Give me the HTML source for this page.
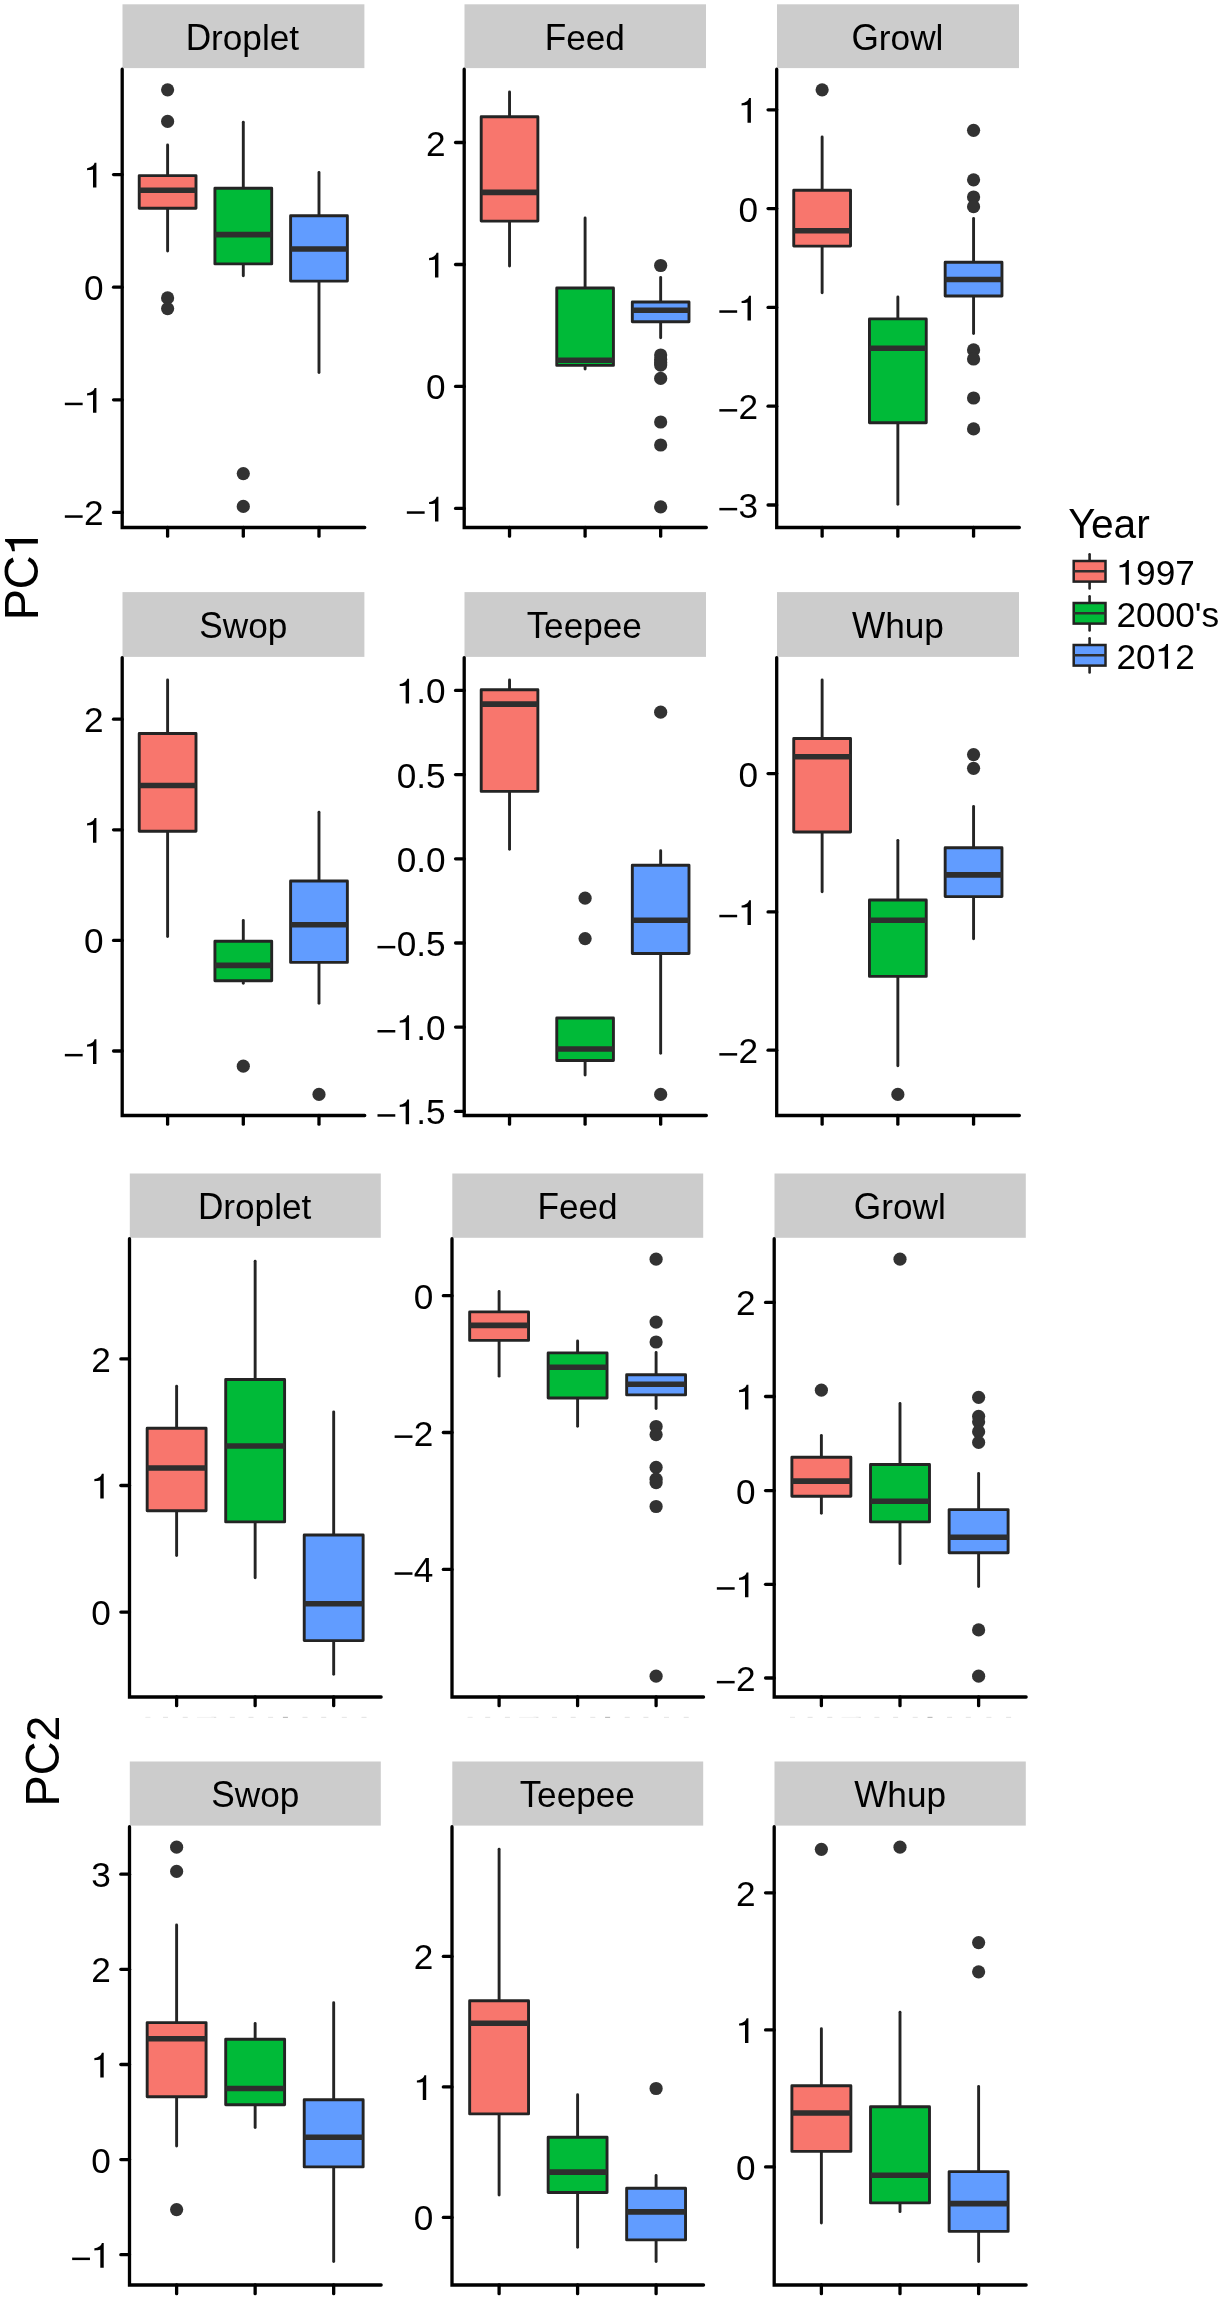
<!DOCTYPE html>
<html><head><meta charset="utf-8"><style>
html,body{margin:0;padding:0;background:#fff;}
svg{display:block;}

text{font-family:"Liberation Sans",sans-serif;}
svg{will-change:transform;}
</style></head><body>
<svg width="1222" height="2300" viewBox="0 0 1222 2300">
<rect width="1222" height="2300" fill="#fff"/>
<g>
<rect x="122.5" y="4.3" width="241.9" height="63.8" fill="#CCCCCC"/>
<g transform="translate(185.65,50.35) scale(1,1)" fill="#000"><text x="0" y="0" transform="scale(1,1.04)" font-size="35.2" style="font-kerning:none">D</text><text x="25.42" y="0" font-size="35.2" style="font-kerning:none">roplet</text></g>
<line x1="167.61" y1="145.05" x2="167.61" y2="175.6" stroke="#242424" stroke-width="2.9" stroke-linecap="round"/>
<line x1="167.61" y1="208.3" x2="167.61" y2="251.05" stroke="#242424" stroke-width="2.9" stroke-linecap="round"/>
<rect x="139.23" y="175.6" width="56.77" height="32.7" fill="#F8766D" stroke="#242424" stroke-width="2.9" stroke-linejoin="round"/>
<line x1="139.23" y1="190.3" x2="196" y2="190.3" stroke="#2e2e2e" stroke-width="5.6" stroke-linecap="butt"/>
<circle cx="167.61" cy="89.8" r="6.6" fill="#323232"/>
<circle cx="167.61" cy="121.4" r="6.6" fill="#323232"/>
<circle cx="167.61" cy="297.9" r="6.6" fill="#323232"/>
<circle cx="167.61" cy="308.6" r="6.6" fill="#323232"/>
<line x1="243.3" y1="122.15" x2="243.3" y2="188.3" stroke="#242424" stroke-width="2.9" stroke-linecap="round"/>
<line x1="243.3" y1="263.9" x2="243.3" y2="275.75" stroke="#242424" stroke-width="2.9" stroke-linecap="round"/>
<rect x="214.92" y="188.3" width="56.77" height="75.6" fill="#00BA38" stroke="#242424" stroke-width="2.9" stroke-linejoin="round"/>
<line x1="214.92" y1="234.6" x2="271.68" y2="234.6" stroke="#2e2e2e" stroke-width="5.6" stroke-linecap="butt"/>
<circle cx="243.3" cy="473.6" r="6.6" fill="#323232"/>
<circle cx="243.3" cy="506.4" r="6.6" fill="#323232"/>
<line x1="318.99" y1="172.55" x2="318.99" y2="215.8" stroke="#242424" stroke-width="2.9" stroke-linecap="round"/>
<line x1="318.99" y1="281.1" x2="318.99" y2="372.45" stroke="#242424" stroke-width="2.9" stroke-linecap="round"/>
<rect x="290.6" y="215.8" width="56.77" height="65.3" fill="#619CFF" stroke="#242424" stroke-width="2.9" stroke-linejoin="round"/>
<line x1="290.6" y1="249" x2="347.37" y2="249" stroke="#2e2e2e" stroke-width="5.6" stroke-linecap="butt"/>
<path d="M122.2,69.25V527.5H364.75" fill="none" stroke="#000" stroke-width="3.3" stroke-linejoin="miter" stroke-linecap="round"/>
<line x1="113.55" y1="174.6" x2="122.2" y2="174.6" stroke="#000" stroke-width="3.3" stroke-linecap="round"/>
<g transform="translate(84.02,187.6) scale(1,1)" fill="#000"><path transform="translate(0,0) scale(35.2,-35.2)" d="M0.255,0L0.352,0L0.352,0.703L0.300,0.703C0.283,0.640 0.225,0.575 0.087,0.553L0.087,0.492C0.150,0.496 0.215,0.502 0.255,0.512Z"/></g>
<line x1="113.55" y1="287.2" x2="122.2" y2="287.2" stroke="#000" stroke-width="3.3" stroke-linecap="round"/>
<g transform="translate(84.02,300.2) scale(1,1)" fill="#000"><text x="0" y="0" font-size="35.2" style="font-kerning:none">0</text></g>
<line x1="113.55" y1="399.8" x2="122.2" y2="399.8" stroke="#000" stroke-width="3.3" stroke-linecap="round"/>
<g transform="translate(63.47,412.8) scale(1,1)" fill="#000"><path transform="translate(0,0) scale(35.2,-35.2)" d="M0.039,0.216L0.545,0.216L0.545,0.287L0.039,0.287Z"/><path transform="translate(20.56,0) scale(35.2,-35.2)" d="M0.255,0L0.352,0L0.352,0.703L0.300,0.703C0.283,0.640 0.225,0.575 0.087,0.553L0.087,0.492C0.150,0.496 0.215,0.502 0.255,0.512Z"/></g>
<line x1="113.55" y1="512.4" x2="122.2" y2="512.4" stroke="#000" stroke-width="3.3" stroke-linecap="round"/>
<g transform="translate(63.47,525.4) scale(1,1)" fill="#000"><path transform="translate(0,0) scale(35.2,-35.2)" d="M0.039,0.216L0.545,0.216L0.545,0.287L0.039,0.287Z"/><text x="20.56" y="0" font-size="35.2" style="font-kerning:none">2</text></g>
<line x1="167.61" y1="527.5" x2="167.61" y2="536.15" stroke="#000" stroke-width="3.3" stroke-linecap="round"/>
<line x1="243.3" y1="527.5" x2="243.3" y2="536.15" stroke="#000" stroke-width="3.3" stroke-linecap="round"/>
<line x1="318.99" y1="527.5" x2="318.99" y2="536.15" stroke="#000" stroke-width="3.3" stroke-linecap="round"/>
<rect x="464.5" y="4.3" width="241.5" height="63.8" fill="#CCCCCC"/>
<g transform="translate(544.73,50.35) scale(1,1)" fill="#000"><text x="0" y="0" transform="scale(1,1.04)" font-size="35.2" style="font-kerning:none">F</text><text x="21.5" y="0" font-size="35.2" style="font-kerning:none">eed</text></g>
<line x1="509.54" y1="91.95" x2="509.54" y2="116.8" stroke="#242424" stroke-width="2.9" stroke-linecap="round"/>
<line x1="509.54" y1="221.1" x2="509.54" y2="265.95" stroke="#242424" stroke-width="2.9" stroke-linecap="round"/>
<rect x="481.2" y="116.8" width="56.67" height="104.3" fill="#F8766D" stroke="#242424" stroke-width="2.9" stroke-linejoin="round"/>
<line x1="481.2" y1="192.4" x2="537.87" y2="192.4" stroke="#2e2e2e" stroke-width="5.6" stroke-linecap="butt"/>
<line x1="585.1" y1="217.95" x2="585.1" y2="288" stroke="#242424" stroke-width="2.9" stroke-linecap="round"/>
<line x1="585.1" y1="365.4" x2="585.1" y2="369.05" stroke="#242424" stroke-width="2.9" stroke-linecap="round"/>
<rect x="556.76" y="288" width="56.67" height="77.4" fill="#00BA38" stroke="#242424" stroke-width="2.9" stroke-linejoin="round"/>
<line x1="556.76" y1="360.2" x2="613.44" y2="360.2" stroke="#2e2e2e" stroke-width="5.6" stroke-linecap="butt"/>
<line x1="660.66" y1="277.45" x2="660.66" y2="302" stroke="#242424" stroke-width="2.9" stroke-linecap="round"/>
<line x1="660.66" y1="321.7" x2="660.66" y2="337.75" stroke="#242424" stroke-width="2.9" stroke-linecap="round"/>
<rect x="632.33" y="302" width="56.67" height="19.7" fill="#619CFF" stroke="#242424" stroke-width="2.9" stroke-linejoin="round"/>
<line x1="632.33" y1="310.3" x2="689" y2="310.3" stroke="#2e2e2e" stroke-width="5.6" stroke-linecap="butt"/>
<circle cx="660.66" cy="265.5" r="6.6" fill="#323232"/>
<circle cx="660.66" cy="355" r="6.6" fill="#323232"/>
<circle cx="660.66" cy="359.5" r="6.6" fill="#323232"/>
<circle cx="660.66" cy="362.5" r="6.6" fill="#323232"/>
<circle cx="660.66" cy="365.1" r="6.6" fill="#323232"/>
<circle cx="660.66" cy="378.4" r="6.6" fill="#323232"/>
<circle cx="660.66" cy="422" r="6.6" fill="#323232"/>
<circle cx="660.66" cy="445" r="6.6" fill="#323232"/>
<circle cx="660.66" cy="506.8" r="6.6" fill="#323232"/>
<path d="M464.2,69.25V527.5H706.35" fill="none" stroke="#000" stroke-width="3.3" stroke-linejoin="miter" stroke-linecap="round"/>
<line x1="455.55" y1="142.5" x2="464.2" y2="142.5" stroke="#000" stroke-width="3.3" stroke-linecap="round"/>
<g transform="translate(426.02,155.5) scale(1,1)" fill="#000"><text x="0" y="0" font-size="35.2" style="font-kerning:none">2</text></g>
<line x1="455.55" y1="264.5" x2="464.2" y2="264.5" stroke="#000" stroke-width="3.3" stroke-linecap="round"/>
<g transform="translate(426.02,277.5) scale(1,1)" fill="#000"><path transform="translate(0,0) scale(35.2,-35.2)" d="M0.255,0L0.352,0L0.352,0.703L0.300,0.703C0.283,0.640 0.225,0.575 0.087,0.553L0.087,0.492C0.150,0.496 0.215,0.502 0.255,0.512Z"/></g>
<line x1="455.55" y1="386.4" x2="464.2" y2="386.4" stroke="#000" stroke-width="3.3" stroke-linecap="round"/>
<g transform="translate(426.02,399.4) scale(1,1)" fill="#000"><text x="0" y="0" font-size="35.2" style="font-kerning:none">0</text></g>
<line x1="455.55" y1="508.4" x2="464.2" y2="508.4" stroke="#000" stroke-width="3.3" stroke-linecap="round"/>
<g transform="translate(405.47,521.4) scale(1,1)" fill="#000"><path transform="translate(0,0) scale(35.2,-35.2)" d="M0.039,0.216L0.545,0.216L0.545,0.287L0.039,0.287Z"/><path transform="translate(20.56,0) scale(35.2,-35.2)" d="M0.255,0L0.352,0L0.352,0.703L0.300,0.703C0.283,0.640 0.225,0.575 0.087,0.553L0.087,0.492C0.150,0.496 0.215,0.502 0.255,0.512Z"/></g>
<line x1="509.54" y1="527.5" x2="509.54" y2="536.15" stroke="#000" stroke-width="3.3" stroke-linecap="round"/>
<line x1="585.1" y1="527.5" x2="585.1" y2="536.15" stroke="#000" stroke-width="3.3" stroke-linecap="round"/>
<line x1="660.66" y1="527.5" x2="660.66" y2="536.15" stroke="#000" stroke-width="3.3" stroke-linecap="round"/>
<rect x="777" y="4.3" width="242" height="63.8" fill="#CCCCCC"/>
<g transform="translate(851.48,50.35) scale(1,1)" fill="#000"><text x="0" y="0" transform="scale(1,1.04)" font-size="35.2" style="font-kerning:none">G</text><text x="27.38" y="0" font-size="35.2" style="font-kerning:none">rowl</text></g>
<line x1="822.13" y1="137.05" x2="822.13" y2="190.2" stroke="#242424" stroke-width="2.9" stroke-linecap="round"/>
<line x1="822.13" y1="246.1" x2="822.13" y2="292.75" stroke="#242424" stroke-width="2.9" stroke-linecap="round"/>
<rect x="793.74" y="190.2" width="56.79" height="55.9" fill="#F8766D" stroke="#242424" stroke-width="2.9" stroke-linejoin="round"/>
<line x1="793.74" y1="230.7" x2="850.53" y2="230.7" stroke="#2e2e2e" stroke-width="5.6" stroke-linecap="butt"/>
<circle cx="822.13" cy="89.8" r="6.6" fill="#323232"/>
<line x1="897.85" y1="297.05" x2="897.85" y2="318.9" stroke="#242424" stroke-width="2.9" stroke-linecap="round"/>
<line x1="897.85" y1="422.7" x2="897.85" y2="504.25" stroke="#242424" stroke-width="2.9" stroke-linecap="round"/>
<rect x="869.46" y="318.9" width="56.79" height="103.8" fill="#00BA38" stroke="#242424" stroke-width="2.9" stroke-linejoin="round"/>
<line x1="869.46" y1="348.3" x2="926.24" y2="348.3" stroke="#2e2e2e" stroke-width="5.6" stroke-linecap="butt"/>
<line x1="973.57" y1="218.45" x2="973.57" y2="262.3" stroke="#242424" stroke-width="2.9" stroke-linecap="round"/>
<line x1="973.57" y1="296" x2="973.57" y2="333.55" stroke="#242424" stroke-width="2.9" stroke-linecap="round"/>
<rect x="945.17" y="262.3" width="56.79" height="33.7" fill="#619CFF" stroke="#242424" stroke-width="2.9" stroke-linejoin="round"/>
<line x1="945.17" y1="279.5" x2="1001.96" y2="279.5" stroke="#2e2e2e" stroke-width="5.6" stroke-linecap="butt"/>
<circle cx="973.57" cy="130.3" r="6.6" fill="#323232"/>
<circle cx="973.57" cy="179.8" r="6.6" fill="#323232"/>
<circle cx="973.57" cy="197" r="6.6" fill="#323232"/>
<circle cx="973.57" cy="206.7" r="6.6" fill="#323232"/>
<circle cx="973.57" cy="349.9" r="6.6" fill="#323232"/>
<circle cx="973.57" cy="359" r="6.6" fill="#323232"/>
<circle cx="973.57" cy="398" r="6.6" fill="#323232"/>
<circle cx="973.57" cy="428.9" r="6.6" fill="#323232"/>
<path d="M776.7,69.25V527.5H1019.35" fill="none" stroke="#000" stroke-width="3.3" stroke-linejoin="miter" stroke-linecap="round"/>
<line x1="768.05" y1="109.8" x2="776.7" y2="109.8" stroke="#000" stroke-width="3.3" stroke-linecap="round"/>
<g transform="translate(738.52,122.8) scale(1,1)" fill="#000"><path transform="translate(0,0) scale(35.2,-35.2)" d="M0.255,0L0.352,0L0.352,0.703L0.300,0.703C0.283,0.640 0.225,0.575 0.087,0.553L0.087,0.492C0.150,0.496 0.215,0.502 0.255,0.512Z"/></g>
<line x1="768.05" y1="208.6" x2="776.7" y2="208.6" stroke="#000" stroke-width="3.3" stroke-linecap="round"/>
<g transform="translate(738.52,221.6) scale(1,1)" fill="#000"><text x="0" y="0" font-size="35.2" style="font-kerning:none">0</text></g>
<line x1="768.05" y1="307.4" x2="776.7" y2="307.4" stroke="#000" stroke-width="3.3" stroke-linecap="round"/>
<g transform="translate(717.97,320.4) scale(1,1)" fill="#000"><path transform="translate(0,0) scale(35.2,-35.2)" d="M0.039,0.216L0.545,0.216L0.545,0.287L0.039,0.287Z"/><path transform="translate(20.56,0) scale(35.2,-35.2)" d="M0.255,0L0.352,0L0.352,0.703L0.300,0.703C0.283,0.640 0.225,0.575 0.087,0.553L0.087,0.492C0.150,0.496 0.215,0.502 0.255,0.512Z"/></g>
<line x1="768.05" y1="406.2" x2="776.7" y2="406.2" stroke="#000" stroke-width="3.3" stroke-linecap="round"/>
<g transform="translate(717.97,419.2) scale(1,1)" fill="#000"><path transform="translate(0,0) scale(35.2,-35.2)" d="M0.039,0.216L0.545,0.216L0.545,0.287L0.039,0.287Z"/><text x="20.56" y="0" font-size="35.2" style="font-kerning:none">2</text></g>
<line x1="768.05" y1="505" x2="776.7" y2="505" stroke="#000" stroke-width="3.3" stroke-linecap="round"/>
<g transform="translate(717.97,518) scale(1,1)" fill="#000"><path transform="translate(0,0) scale(35.2,-35.2)" d="M0.039,0.216L0.545,0.216L0.545,0.287L0.039,0.287Z"/><text x="20.56" y="0" font-size="35.2" style="font-kerning:none">3</text></g>
<line x1="822.13" y1="527.5" x2="822.13" y2="536.15" stroke="#000" stroke-width="3.3" stroke-linecap="round"/>
<line x1="897.85" y1="527.5" x2="897.85" y2="536.15" stroke="#000" stroke-width="3.3" stroke-linecap="round"/>
<line x1="973.57" y1="527.5" x2="973.57" y2="536.15" stroke="#000" stroke-width="3.3" stroke-linecap="round"/>
<rect x="122.5" y="592.1" width="241.9" height="64.8" fill="#CCCCCC"/>
<g transform="translate(199.26,637.7) scale(1,1)" fill="#000"><text x="0" y="0" transform="scale(1,1.04)" font-size="35.2" style="font-kerning:none">S</text><text x="23.48" y="0" font-size="35.2" style="font-kerning:none">wop</text></g>
<line x1="167.61" y1="679.95" x2="167.61" y2="733.5" stroke="#242424" stroke-width="2.9" stroke-linecap="round"/>
<line x1="167.61" y1="831.3" x2="167.61" y2="936.45" stroke="#242424" stroke-width="2.9" stroke-linecap="round"/>
<rect x="139.23" y="733.5" width="56.77" height="97.8" fill="#F8766D" stroke="#242424" stroke-width="2.9" stroke-linejoin="round"/>
<line x1="139.23" y1="785.5" x2="196" y2="785.5" stroke="#2e2e2e" stroke-width="5.6" stroke-linecap="butt"/>
<line x1="243.3" y1="920.45" x2="243.3" y2="941.3" stroke="#242424" stroke-width="2.9" stroke-linecap="round"/>
<line x1="243.3" y1="980.7" x2="243.3" y2="983.35" stroke="#242424" stroke-width="2.9" stroke-linecap="round"/>
<rect x="214.92" y="941.3" width="56.77" height="39.4" fill="#00BA38" stroke="#242424" stroke-width="2.9" stroke-linejoin="round"/>
<line x1="214.92" y1="965.4" x2="271.68" y2="965.4" stroke="#2e2e2e" stroke-width="5.6" stroke-linecap="butt"/>
<circle cx="243.3" cy="1066.2" r="6.6" fill="#323232"/>
<line x1="318.99" y1="812.15" x2="318.99" y2="881" stroke="#242424" stroke-width="2.9" stroke-linecap="round"/>
<line x1="318.99" y1="962.4" x2="318.99" y2="1003.35" stroke="#242424" stroke-width="2.9" stroke-linecap="round"/>
<rect x="290.6" y="881" width="56.77" height="81.4" fill="#619CFF" stroke="#242424" stroke-width="2.9" stroke-linejoin="round"/>
<line x1="290.6" y1="924.8" x2="347.37" y2="924.8" stroke="#2e2e2e" stroke-width="5.6" stroke-linecap="butt"/>
<circle cx="318.99" cy="1094.4" r="6.6" fill="#323232"/>
<path d="M122.2,657.55V1115.5H364.75" fill="none" stroke="#000" stroke-width="3.3" stroke-linejoin="miter" stroke-linecap="round"/>
<line x1="113.55" y1="719.2" x2="122.2" y2="719.2" stroke="#000" stroke-width="3.3" stroke-linecap="round"/>
<g transform="translate(84.02,732.2) scale(1,1)" fill="#000"><text x="0" y="0" font-size="35.2" style="font-kerning:none">2</text></g>
<line x1="113.55" y1="829.8" x2="122.2" y2="829.8" stroke="#000" stroke-width="3.3" stroke-linecap="round"/>
<g transform="translate(84.02,842.8) scale(1,1)" fill="#000"><path transform="translate(0,0) scale(35.2,-35.2)" d="M0.255,0L0.352,0L0.352,0.703L0.300,0.703C0.283,0.640 0.225,0.575 0.087,0.553L0.087,0.492C0.150,0.496 0.215,0.502 0.255,0.512Z"/></g>
<line x1="113.55" y1="940.4" x2="122.2" y2="940.4" stroke="#000" stroke-width="3.3" stroke-linecap="round"/>
<g transform="translate(84.02,953.4) scale(1,1)" fill="#000"><text x="0" y="0" font-size="35.2" style="font-kerning:none">0</text></g>
<line x1="113.55" y1="1051" x2="122.2" y2="1051" stroke="#000" stroke-width="3.3" stroke-linecap="round"/>
<g transform="translate(63.47,1064) scale(1,1)" fill="#000"><path transform="translate(0,0) scale(35.2,-35.2)" d="M0.039,0.216L0.545,0.216L0.545,0.287L0.039,0.287Z"/><path transform="translate(20.56,0) scale(35.2,-35.2)" d="M0.255,0L0.352,0L0.352,0.703L0.300,0.703C0.283,0.640 0.225,0.575 0.087,0.553L0.087,0.492C0.150,0.496 0.215,0.502 0.255,0.512Z"/></g>
<line x1="167.61" y1="1115.5" x2="167.61" y2="1124.15" stroke="#000" stroke-width="3.3" stroke-linecap="round"/>
<line x1="243.3" y1="1115.5" x2="243.3" y2="1124.15" stroke="#000" stroke-width="3.3" stroke-linecap="round"/>
<line x1="318.99" y1="1115.5" x2="318.99" y2="1124.15" stroke="#000" stroke-width="3.3" stroke-linecap="round"/>
<rect x="464.5" y="592.1" width="241.5" height="64.8" fill="#CCCCCC"/>
<g transform="translate(526.81,637.7) scale(1,1)" fill="#000"><text x="0" y="0" transform="scale(1,1.04)" font-size="35.2" style="font-kerning:none">T</text><text x="17.28" y="0" font-size="35.2" style="font-kerning:none">eepee</text></g>
<line x1="509.54" y1="679.95" x2="509.54" y2="689.7" stroke="#242424" stroke-width="2.9" stroke-linecap="round"/>
<line x1="509.54" y1="791.4" x2="509.54" y2="849.35" stroke="#242424" stroke-width="2.9" stroke-linecap="round"/>
<rect x="481.2" y="689.7" width="56.67" height="101.7" fill="#F8766D" stroke="#242424" stroke-width="2.9" stroke-linejoin="round"/>
<line x1="481.2" y1="704.1" x2="537.87" y2="704.1" stroke="#2e2e2e" stroke-width="5.6" stroke-linecap="butt"/>
<line x1="585.1" y1="1060.5" x2="585.1" y2="1075.05" stroke="#242424" stroke-width="2.9" stroke-linecap="round"/>
<rect x="556.76" y="1018" width="56.67" height="42.5" fill="#00BA38" stroke="#242424" stroke-width="2.9" stroke-linejoin="round"/>
<line x1="556.76" y1="1049" x2="613.44" y2="1049" stroke="#2e2e2e" stroke-width="5.6" stroke-linecap="butt"/>
<circle cx="585.1" cy="898.2" r="6.6" fill="#323232"/>
<circle cx="585.1" cy="938.6" r="6.6" fill="#323232"/>
<line x1="660.66" y1="850.65" x2="660.66" y2="865.2" stroke="#242424" stroke-width="2.9" stroke-linecap="round"/>
<line x1="660.66" y1="953.5" x2="660.66" y2="1053.25" stroke="#242424" stroke-width="2.9" stroke-linecap="round"/>
<rect x="632.33" y="865.2" width="56.67" height="88.3" fill="#619CFF" stroke="#242424" stroke-width="2.9" stroke-linejoin="round"/>
<line x1="632.33" y1="920.2" x2="689" y2="920.2" stroke="#2e2e2e" stroke-width="5.6" stroke-linecap="butt"/>
<circle cx="660.66" cy="712.2" r="6.6" fill="#323232"/>
<circle cx="660.66" cy="1094.4" r="6.6" fill="#323232"/>
<path d="M464.2,657.55V1115.5H706.35" fill="none" stroke="#000" stroke-width="3.3" stroke-linejoin="miter" stroke-linecap="round"/>
<line x1="455.55" y1="690.4" x2="464.2" y2="690.4" stroke="#000" stroke-width="3.3" stroke-linecap="round"/>
<g transform="translate(396.67,703.4) scale(1,1)" fill="#000"><path transform="translate(0,0) scale(35.2,-35.2)" d="M0.255,0L0.352,0L0.352,0.703L0.300,0.703C0.283,0.640 0.225,0.575 0.087,0.553L0.087,0.492C0.150,0.496 0.215,0.502 0.255,0.512Z"/><text x="19.58" y="0" font-size="35.2" style="font-kerning:none">.0</text></g>
<line x1="455.55" y1="774.6" x2="464.2" y2="774.6" stroke="#000" stroke-width="3.3" stroke-linecap="round"/>
<g transform="translate(396.67,787.6) scale(1,1)" fill="#000"><text x="0" y="0" font-size="35.2" style="font-kerning:none">0.5</text></g>
<line x1="455.55" y1="858.8" x2="464.2" y2="858.8" stroke="#000" stroke-width="3.3" stroke-linecap="round"/>
<g transform="translate(396.67,871.8) scale(1,1)" fill="#000"><text x="0" y="0" font-size="35.2" style="font-kerning:none">0.0</text></g>
<line x1="455.55" y1="943" x2="464.2" y2="943" stroke="#000" stroke-width="3.3" stroke-linecap="round"/>
<g transform="translate(376.11,956) scale(1,1)" fill="#000"><path transform="translate(0,0) scale(35.2,-35.2)" d="M0.039,0.216L0.545,0.216L0.545,0.287L0.039,0.287Z"/><text x="20.56" y="0" font-size="35.2" style="font-kerning:none">0.5</text></g>
<line x1="455.55" y1="1027.1" x2="464.2" y2="1027.1" stroke="#000" stroke-width="3.3" stroke-linecap="round"/>
<g transform="translate(376.11,1040.1) scale(1,1)" fill="#000"><path transform="translate(0,0) scale(35.2,-35.2)" d="M0.039,0.216L0.545,0.216L0.545,0.287L0.039,0.287Z"/><path transform="translate(20.56,0) scale(35.2,-35.2)" d="M0.255,0L0.352,0L0.352,0.703L0.300,0.703C0.283,0.640 0.225,0.575 0.087,0.553L0.087,0.492C0.150,0.496 0.215,0.502 0.255,0.512Z"/><text x="40.13" y="0" font-size="35.2" style="font-kerning:none">.0</text></g>
<line x1="455.55" y1="1111.3" x2="464.2" y2="1111.3" stroke="#000" stroke-width="3.3" stroke-linecap="round"/>
<g transform="translate(376.11,1124.3) scale(1,1)" fill="#000"><path transform="translate(0,0) scale(35.2,-35.2)" d="M0.039,0.216L0.545,0.216L0.545,0.287L0.039,0.287Z"/><path transform="translate(20.56,0) scale(35.2,-35.2)" d="M0.255,0L0.352,0L0.352,0.703L0.300,0.703C0.283,0.640 0.225,0.575 0.087,0.553L0.087,0.492C0.150,0.496 0.215,0.502 0.255,0.512Z"/><text x="40.13" y="0" font-size="35.2" style="font-kerning:none">.5</text></g>
<line x1="509.54" y1="1115.5" x2="509.54" y2="1124.15" stroke="#000" stroke-width="3.3" stroke-linecap="round"/>
<line x1="585.1" y1="1115.5" x2="585.1" y2="1124.15" stroke="#000" stroke-width="3.3" stroke-linecap="round"/>
<line x1="660.66" y1="1115.5" x2="660.66" y2="1124.15" stroke="#000" stroke-width="3.3" stroke-linecap="round"/>
<rect x="777" y="592.1" width="242" height="64.8" fill="#CCCCCC"/>
<g transform="translate(851.94,637.7) scale(1,1)" fill="#000"><text x="0" y="0" transform="scale(1,1.04)" font-size="35.2" style="font-kerning:none">W</text><text x="33.22" y="0" font-size="35.2" style="font-kerning:none">hup</text></g>
<line x1="822.13" y1="679.95" x2="822.13" y2="738.5" stroke="#242424" stroke-width="2.9" stroke-linecap="round"/>
<line x1="822.13" y1="832" x2="822.13" y2="891.75" stroke="#242424" stroke-width="2.9" stroke-linecap="round"/>
<rect x="793.74" y="738.5" width="56.79" height="93.5" fill="#F8766D" stroke="#242424" stroke-width="2.9" stroke-linejoin="round"/>
<line x1="793.74" y1="756.8" x2="850.53" y2="756.8" stroke="#2e2e2e" stroke-width="5.6" stroke-linecap="butt"/>
<line x1="897.85" y1="840.35" x2="897.85" y2="900" stroke="#242424" stroke-width="2.9" stroke-linecap="round"/>
<line x1="897.85" y1="976.4" x2="897.85" y2="1065.85" stroke="#242424" stroke-width="2.9" stroke-linecap="round"/>
<rect x="869.46" y="900" width="56.79" height="76.4" fill="#00BA38" stroke="#242424" stroke-width="2.9" stroke-linejoin="round"/>
<line x1="869.46" y1="920.2" x2="926.24" y2="920.2" stroke="#2e2e2e" stroke-width="5.6" stroke-linecap="butt"/>
<circle cx="897.85" cy="1094.4" r="6.6" fill="#323232"/>
<line x1="973.57" y1="806.45" x2="973.57" y2="847.8" stroke="#242424" stroke-width="2.9" stroke-linecap="round"/>
<line x1="973.57" y1="896.6" x2="973.57" y2="938.75" stroke="#242424" stroke-width="2.9" stroke-linecap="round"/>
<rect x="945.17" y="847.8" width="56.79" height="48.8" fill="#619CFF" stroke="#242424" stroke-width="2.9" stroke-linejoin="round"/>
<line x1="945.17" y1="874.9" x2="1001.96" y2="874.9" stroke="#2e2e2e" stroke-width="5.6" stroke-linecap="butt"/>
<circle cx="973.57" cy="754.6" r="6.6" fill="#323232"/>
<circle cx="973.57" cy="768.3" r="6.6" fill="#323232"/>
<path d="M776.7,657.55V1115.5H1019.35" fill="none" stroke="#000" stroke-width="3.3" stroke-linejoin="miter" stroke-linecap="round"/>
<line x1="768.05" y1="773.6" x2="776.7" y2="773.6" stroke="#000" stroke-width="3.3" stroke-linecap="round"/>
<g transform="translate(738.52,786.6) scale(1,1)" fill="#000"><text x="0" y="0" font-size="35.2" style="font-kerning:none">0</text></g>
<line x1="768.05" y1="911.9" x2="776.7" y2="911.9" stroke="#000" stroke-width="3.3" stroke-linecap="round"/>
<g transform="translate(717.97,924.9) scale(1,1)" fill="#000"><path transform="translate(0,0) scale(35.2,-35.2)" d="M0.039,0.216L0.545,0.216L0.545,0.287L0.039,0.287Z"/><path transform="translate(20.56,0) scale(35.2,-35.2)" d="M0.255,0L0.352,0L0.352,0.703L0.300,0.703C0.283,0.640 0.225,0.575 0.087,0.553L0.087,0.492C0.150,0.496 0.215,0.502 0.255,0.512Z"/></g>
<line x1="768.05" y1="1050.2" x2="776.7" y2="1050.2" stroke="#000" stroke-width="3.3" stroke-linecap="round"/>
<g transform="translate(717.97,1063.2) scale(1,1)" fill="#000"><path transform="translate(0,0) scale(35.2,-35.2)" d="M0.039,0.216L0.545,0.216L0.545,0.287L0.039,0.287Z"/><text x="20.56" y="0" font-size="35.2" style="font-kerning:none">2</text></g>
<line x1="822.13" y1="1115.5" x2="822.13" y2="1124.15" stroke="#000" stroke-width="3.3" stroke-linecap="round"/>
<line x1="897.85" y1="1115.5" x2="897.85" y2="1124.15" stroke="#000" stroke-width="3.3" stroke-linecap="round"/>
<line x1="973.57" y1="1115.5" x2="973.57" y2="1124.15" stroke="#000" stroke-width="3.3" stroke-linecap="round"/>
<rect x="129.8" y="1173.5" width="251" height="64.3" fill="#CCCCCC"/>
<g transform="translate(197.9,1218.55) scale(1,1)" fill="#000"><text x="0" y="0" transform="scale(1,1.04)" font-size="35.2" style="font-kerning:none">D</text><text x="25.42" y="0" font-size="35.2" style="font-kerning:none">roplet</text></g>
<line x1="176.62" y1="1386.15" x2="176.62" y2="1428.2" stroke="#242424" stroke-width="2.9" stroke-linecap="round"/>
<line x1="176.62" y1="1510.7" x2="176.62" y2="1555.55" stroke="#242424" stroke-width="2.9" stroke-linecap="round"/>
<rect x="147.17" y="1428.2" width="58.9" height="82.5" fill="#F8766D" stroke="#242424" stroke-width="2.9" stroke-linejoin="round"/>
<line x1="147.17" y1="1468" x2="206.07" y2="1468" stroke="#2e2e2e" stroke-width="5.6" stroke-linecap="butt"/>
<line x1="255.15" y1="1261.15" x2="255.15" y2="1379.5" stroke="#242424" stroke-width="2.9" stroke-linecap="round"/>
<line x1="255.15" y1="1521.9" x2="255.15" y2="1577.85" stroke="#242424" stroke-width="2.9" stroke-linecap="round"/>
<rect x="225.7" y="1379.5" width="58.9" height="142.4" fill="#00BA38" stroke="#242424" stroke-width="2.9" stroke-linejoin="round"/>
<line x1="225.7" y1="1446" x2="284.6" y2="1446" stroke="#2e2e2e" stroke-width="5.6" stroke-linecap="butt"/>
<line x1="333.68" y1="1411.85" x2="333.68" y2="1535" stroke="#242424" stroke-width="2.9" stroke-linecap="round"/>
<line x1="333.68" y1="1640.6" x2="333.68" y2="1674.25" stroke="#242424" stroke-width="2.9" stroke-linecap="round"/>
<rect x="304.23" y="1535" width="58.9" height="105.6" fill="#619CFF" stroke="#242424" stroke-width="2.9" stroke-linejoin="round"/>
<line x1="304.23" y1="1603.8" x2="363.13" y2="1603.8" stroke="#2e2e2e" stroke-width="5.6" stroke-linecap="butt"/>
<path d="M129.5,1238.65V1697H381.15" fill="none" stroke="#000" stroke-width="3.3" stroke-linejoin="miter" stroke-linecap="round"/>
<line x1="120.85" y1="1358.9" x2="129.5" y2="1358.9" stroke="#000" stroke-width="3.3" stroke-linecap="round"/>
<g transform="translate(91.32,1371.9) scale(1,1)" fill="#000"><text x="0" y="0" font-size="35.2" style="font-kerning:none">2</text></g>
<line x1="120.85" y1="1485.5" x2="129.5" y2="1485.5" stroke="#000" stroke-width="3.3" stroke-linecap="round"/>
<g transform="translate(91.32,1498.5) scale(1,1)" fill="#000"><path transform="translate(0,0) scale(35.2,-35.2)" d="M0.255,0L0.352,0L0.352,0.703L0.300,0.703C0.283,0.640 0.225,0.575 0.087,0.553L0.087,0.492C0.150,0.496 0.215,0.502 0.255,0.512Z"/></g>
<line x1="120.85" y1="1612.1" x2="129.5" y2="1612.1" stroke="#000" stroke-width="3.3" stroke-linecap="round"/>
<g transform="translate(91.32,1625.1) scale(1,1)" fill="#000"><text x="0" y="0" font-size="35.2" style="font-kerning:none">0</text></g>
<line x1="176.62" y1="1697" x2="176.62" y2="1705.65" stroke="#000" stroke-width="3.3" stroke-linecap="round"/>
<line x1="255.15" y1="1697" x2="255.15" y2="1705.65" stroke="#000" stroke-width="3.3" stroke-linecap="round"/>
<line x1="333.68" y1="1697" x2="333.68" y2="1705.65" stroke="#000" stroke-width="3.3" stroke-linecap="round"/>
<rect x="452.3" y="1173.5" width="250.9" height="64.3" fill="#CCCCCC"/>
<g transform="translate(537.48,1218.55) scale(1,1)" fill="#000"><text x="0" y="0" transform="scale(1,1.04)" font-size="35.2" style="font-kerning:none">F</text><text x="21.5" y="0" font-size="35.2" style="font-kerning:none">eed</text></g>
<line x1="499.1" y1="1291.45" x2="499.1" y2="1311.9" stroke="#242424" stroke-width="2.9" stroke-linecap="round"/>
<line x1="499.1" y1="1340.4" x2="499.1" y2="1376.15" stroke="#242424" stroke-width="2.9" stroke-linecap="round"/>
<rect x="469.66" y="1311.9" width="58.88" height="28.5" fill="#F8766D" stroke="#242424" stroke-width="2.9" stroke-linejoin="round"/>
<line x1="469.66" y1="1325.4" x2="528.54" y2="1325.4" stroke="#2e2e2e" stroke-width="5.6" stroke-linecap="butt"/>
<line x1="577.6" y1="1341.05" x2="577.6" y2="1352.9" stroke="#242424" stroke-width="2.9" stroke-linecap="round"/>
<line x1="577.6" y1="1398" x2="577.6" y2="1426.25" stroke="#242424" stroke-width="2.9" stroke-linecap="round"/>
<rect x="548.16" y="1352.9" width="58.88" height="45.1" fill="#00BA38" stroke="#242424" stroke-width="2.9" stroke-linejoin="round"/>
<line x1="548.16" y1="1367.2" x2="607.04" y2="1367.2" stroke="#2e2e2e" stroke-width="5.6" stroke-linecap="butt"/>
<line x1="656.1" y1="1352.45" x2="656.1" y2="1374.8" stroke="#242424" stroke-width="2.9" stroke-linecap="round"/>
<line x1="656.1" y1="1394.9" x2="656.1" y2="1408.45" stroke="#242424" stroke-width="2.9" stroke-linecap="round"/>
<rect x="626.66" y="1374.8" width="58.88" height="20.1" fill="#619CFF" stroke="#242424" stroke-width="2.9" stroke-linejoin="round"/>
<line x1="626.66" y1="1384.3" x2="685.54" y2="1384.3" stroke="#2e2e2e" stroke-width="5.6" stroke-linecap="butt"/>
<circle cx="656.1" cy="1259.2" r="6.6" fill="#323232"/>
<circle cx="656.1" cy="1322.1" r="6.6" fill="#323232"/>
<circle cx="656.1" cy="1342" r="6.6" fill="#323232"/>
<circle cx="656.1" cy="1426.5" r="6.6" fill="#323232"/>
<circle cx="656.1" cy="1434.6" r="6.6" fill="#323232"/>
<circle cx="656.1" cy="1467.3" r="6.6" fill="#323232"/>
<circle cx="656.1" cy="1479.2" r="6.6" fill="#323232"/>
<circle cx="656.1" cy="1482.7" r="6.6" fill="#323232"/>
<circle cx="656.1" cy="1506.5" r="6.6" fill="#323232"/>
<circle cx="656.1" cy="1676.2" r="6.6" fill="#323232"/>
<path d="M452,1238.65V1697H703.55" fill="none" stroke="#000" stroke-width="3.3" stroke-linejoin="miter" stroke-linecap="round"/>
<line x1="443.35" y1="1295.7" x2="452" y2="1295.7" stroke="#000" stroke-width="3.3" stroke-linecap="round"/>
<g transform="translate(413.82,1308.7) scale(1,1)" fill="#000"><text x="0" y="0" font-size="35.2" style="font-kerning:none">0</text></g>
<line x1="443.35" y1="1432.5" x2="452" y2="1432.5" stroke="#000" stroke-width="3.3" stroke-linecap="round"/>
<g transform="translate(393.27,1445.5) scale(1,1)" fill="#000"><path transform="translate(0,0) scale(35.2,-35.2)" d="M0.039,0.216L0.545,0.216L0.545,0.287L0.039,0.287Z"/><text x="20.56" y="0" font-size="35.2" style="font-kerning:none">2</text></g>
<line x1="443.35" y1="1569.4" x2="452" y2="1569.4" stroke="#000" stroke-width="3.3" stroke-linecap="round"/>
<g transform="translate(393.27,1582.4) scale(1,1)" fill="#000"><path transform="translate(0,0) scale(35.2,-35.2)" d="M0.039,0.216L0.545,0.216L0.545,0.287L0.039,0.287Z"/><text x="20.56" y="0" font-size="35.2" style="font-kerning:none">4</text></g>
<line x1="499.1" y1="1697" x2="499.1" y2="1705.65" stroke="#000" stroke-width="3.3" stroke-linecap="round"/>
<line x1="577.6" y1="1697" x2="577.6" y2="1705.65" stroke="#000" stroke-width="3.3" stroke-linecap="round"/>
<line x1="656.1" y1="1697" x2="656.1" y2="1705.65" stroke="#000" stroke-width="3.3" stroke-linecap="round"/>
<rect x="774.5" y="1173.5" width="251.3" height="64.3" fill="#CCCCCC"/>
<g transform="translate(853.83,1218.55) scale(1,1)" fill="#000"><text x="0" y="0" transform="scale(1,1.04)" font-size="35.2" style="font-kerning:none">G</text><text x="27.38" y="0" font-size="35.2" style="font-kerning:none">rowl</text></g>
<line x1="821.38" y1="1435.55" x2="821.38" y2="1457.3" stroke="#242424" stroke-width="2.9" stroke-linecap="round"/>
<line x1="821.38" y1="1496.3" x2="821.38" y2="1513.35" stroke="#242424" stroke-width="2.9" stroke-linecap="round"/>
<rect x="791.89" y="1457.3" width="58.97" height="39" fill="#F8766D" stroke="#242424" stroke-width="2.9" stroke-linejoin="round"/>
<line x1="791.89" y1="1481.1" x2="850.86" y2="1481.1" stroke="#2e2e2e" stroke-width="5.6" stroke-linecap="butt"/>
<circle cx="821.38" cy="1390.2" r="6.6" fill="#323232"/>
<line x1="900" y1="1403.45" x2="900" y2="1464.5" stroke="#242424" stroke-width="2.9" stroke-linecap="round"/>
<line x1="900" y1="1521.9" x2="900" y2="1563.65" stroke="#242424" stroke-width="2.9" stroke-linecap="round"/>
<rect x="870.52" y="1464.5" width="58.97" height="57.4" fill="#00BA38" stroke="#242424" stroke-width="2.9" stroke-linejoin="round"/>
<line x1="870.52" y1="1501.3" x2="929.48" y2="1501.3" stroke="#2e2e2e" stroke-width="5.6" stroke-linecap="butt"/>
<circle cx="900" cy="1259.2" r="6.6" fill="#323232"/>
<line x1="978.62" y1="1473.45" x2="978.62" y2="1509.6" stroke="#242424" stroke-width="2.9" stroke-linecap="round"/>
<line x1="978.62" y1="1552.7" x2="978.62" y2="1586.45" stroke="#242424" stroke-width="2.9" stroke-linecap="round"/>
<rect x="949.14" y="1509.6" width="58.97" height="43.1" fill="#619CFF" stroke="#242424" stroke-width="2.9" stroke-linejoin="round"/>
<line x1="949.14" y1="1537.3" x2="1008.11" y2="1537.3" stroke="#2e2e2e" stroke-width="5.6" stroke-linecap="butt"/>
<circle cx="978.62" cy="1397.3" r="6.6" fill="#323232"/>
<circle cx="978.62" cy="1416.3" r="6.6" fill="#323232"/>
<circle cx="978.62" cy="1421.8" r="6.6" fill="#323232"/>
<circle cx="978.62" cy="1431.7" r="6.6" fill="#323232"/>
<circle cx="978.62" cy="1442.4" r="6.6" fill="#323232"/>
<circle cx="978.62" cy="1629.9" r="6.6" fill="#323232"/>
<circle cx="978.62" cy="1676.2" r="6.6" fill="#323232"/>
<path d="M774.2,1238.65V1697H1026.15" fill="none" stroke="#000" stroke-width="3.3" stroke-linejoin="miter" stroke-linecap="round"/>
<line x1="765.55" y1="1302.4" x2="774.2" y2="1302.4" stroke="#000" stroke-width="3.3" stroke-linecap="round"/>
<g transform="translate(736.02,1315.4) scale(1,1)" fill="#000"><text x="0" y="0" font-size="35.2" style="font-kerning:none">2</text></g>
<line x1="765.55" y1="1396.5" x2="774.2" y2="1396.5" stroke="#000" stroke-width="3.3" stroke-linecap="round"/>
<g transform="translate(736.02,1409.5) scale(1,1)" fill="#000"><path transform="translate(0,0) scale(35.2,-35.2)" d="M0.255,0L0.352,0L0.352,0.703L0.300,0.703C0.283,0.640 0.225,0.575 0.087,0.553L0.087,0.492C0.150,0.496 0.215,0.502 0.255,0.512Z"/></g>
<line x1="765.55" y1="1490.6" x2="774.2" y2="1490.6" stroke="#000" stroke-width="3.3" stroke-linecap="round"/>
<g transform="translate(736.02,1503.6) scale(1,1)" fill="#000"><text x="0" y="0" font-size="35.2" style="font-kerning:none">0</text></g>
<line x1="765.55" y1="1584.3" x2="774.2" y2="1584.3" stroke="#000" stroke-width="3.3" stroke-linecap="round"/>
<g transform="translate(715.47,1597.3) scale(1,1)" fill="#000"><path transform="translate(0,0) scale(35.2,-35.2)" d="M0.039,0.216L0.545,0.216L0.545,0.287L0.039,0.287Z"/><path transform="translate(20.56,0) scale(35.2,-35.2)" d="M0.255,0L0.352,0L0.352,0.703L0.300,0.703C0.283,0.640 0.225,0.575 0.087,0.553L0.087,0.492C0.150,0.496 0.215,0.502 0.255,0.512Z"/></g>
<line x1="765.55" y1="1678" x2="774.2" y2="1678" stroke="#000" stroke-width="3.3" stroke-linecap="round"/>
<g transform="translate(715.47,1691) scale(1,1)" fill="#000"><path transform="translate(0,0) scale(35.2,-35.2)" d="M0.039,0.216L0.545,0.216L0.545,0.287L0.039,0.287Z"/><text x="20.56" y="0" font-size="35.2" style="font-kerning:none">2</text></g>
<line x1="821.38" y1="1697" x2="821.38" y2="1705.65" stroke="#000" stroke-width="3.3" stroke-linecap="round"/>
<line x1="900" y1="1697" x2="900" y2="1705.65" stroke="#000" stroke-width="3.3" stroke-linecap="round"/>
<line x1="978.62" y1="1697" x2="978.62" y2="1705.65" stroke="#000" stroke-width="3.3" stroke-linecap="round"/>
<rect x="129.8" y="1761.5" width="251" height="64.1" fill="#CCCCCC"/>
<g transform="translate(211.26,1807.4) scale(1,1)" fill="#000"><text x="0" y="0" transform="scale(1,1.04)" font-size="35.2" style="font-kerning:none">S</text><text x="23.48" y="0" font-size="35.2" style="font-kerning:none">wop</text></g>
<line x1="176.62" y1="1925.05" x2="176.62" y2="2022.6" stroke="#242424" stroke-width="2.9" stroke-linecap="round"/>
<line x1="176.62" y1="2096.8" x2="176.62" y2="2145.95" stroke="#242424" stroke-width="2.9" stroke-linecap="round"/>
<rect x="147.17" y="2022.6" width="58.9" height="74.2" fill="#F8766D" stroke="#242424" stroke-width="2.9" stroke-linejoin="round"/>
<line x1="147.17" y1="2038.7" x2="206.07" y2="2038.7" stroke="#2e2e2e" stroke-width="5.6" stroke-linecap="butt"/>
<circle cx="176.62" cy="1847.2" r="6.6" fill="#323232"/>
<circle cx="176.62" cy="1871.4" r="6.6" fill="#323232"/>
<circle cx="176.62" cy="2209.6" r="6.6" fill="#323232"/>
<line x1="255.15" y1="2023.55" x2="255.15" y2="2039.2" stroke="#242424" stroke-width="2.9" stroke-linecap="round"/>
<line x1="255.15" y1="2104.7" x2="255.15" y2="2127.45" stroke="#242424" stroke-width="2.9" stroke-linecap="round"/>
<rect x="225.7" y="2039.2" width="58.9" height="65.5" fill="#00BA38" stroke="#242424" stroke-width="2.9" stroke-linejoin="round"/>
<line x1="225.7" y1="2088.5" x2="284.6" y2="2088.5" stroke="#2e2e2e" stroke-width="5.6" stroke-linecap="butt"/>
<line x1="333.68" y1="2002.65" x2="333.68" y2="2099.7" stroke="#242424" stroke-width="2.9" stroke-linecap="round"/>
<line x1="333.68" y1="2166.9" x2="333.68" y2="2261.55" stroke="#242424" stroke-width="2.9" stroke-linecap="round"/>
<rect x="304.23" y="2099.7" width="58.9" height="67.2" fill="#619CFF" stroke="#242424" stroke-width="2.9" stroke-linejoin="round"/>
<line x1="304.23" y1="2137.2" x2="363.13" y2="2137.2" stroke="#2e2e2e" stroke-width="5.6" stroke-linecap="butt"/>
<path d="M129.5,1826.65V2285H381.15" fill="none" stroke="#000" stroke-width="3.3" stroke-linejoin="miter" stroke-linecap="round"/>
<line x1="120.85" y1="1874.2" x2="129.5" y2="1874.2" stroke="#000" stroke-width="3.3" stroke-linecap="round"/>
<g transform="translate(91.32,1887.2) scale(1,1)" fill="#000"><text x="0" y="0" font-size="35.2" style="font-kerning:none">3</text></g>
<line x1="120.85" y1="1969.3" x2="129.5" y2="1969.3" stroke="#000" stroke-width="3.3" stroke-linecap="round"/>
<g transform="translate(91.32,1982.3) scale(1,1)" fill="#000"><text x="0" y="0" font-size="35.2" style="font-kerning:none">2</text></g>
<line x1="120.85" y1="2064.5" x2="129.5" y2="2064.5" stroke="#000" stroke-width="3.3" stroke-linecap="round"/>
<g transform="translate(91.32,2077.5) scale(1,1)" fill="#000"><path transform="translate(0,0) scale(35.2,-35.2)" d="M0.255,0L0.352,0L0.352,0.703L0.300,0.703C0.283,0.640 0.225,0.575 0.087,0.553L0.087,0.492C0.150,0.496 0.215,0.502 0.255,0.512Z"/></g>
<line x1="120.85" y1="2159.6" x2="129.5" y2="2159.6" stroke="#000" stroke-width="3.3" stroke-linecap="round"/>
<g transform="translate(91.32,2172.6) scale(1,1)" fill="#000"><text x="0" y="0" font-size="35.2" style="font-kerning:none">0</text></g>
<line x1="120.85" y1="2254.7" x2="129.5" y2="2254.7" stroke="#000" stroke-width="3.3" stroke-linecap="round"/>
<g transform="translate(70.77,2267.7) scale(1,1)" fill="#000"><path transform="translate(0,0) scale(35.2,-35.2)" d="M0.039,0.216L0.545,0.216L0.545,0.287L0.039,0.287Z"/><path transform="translate(20.56,0) scale(35.2,-35.2)" d="M0.255,0L0.352,0L0.352,0.703L0.300,0.703C0.283,0.640 0.225,0.575 0.087,0.553L0.087,0.492C0.150,0.496 0.215,0.502 0.255,0.512Z"/></g>
<line x1="176.62" y1="2285" x2="176.62" y2="2293.65" stroke="#000" stroke-width="3.3" stroke-linecap="round"/>
<line x1="255.15" y1="2285" x2="255.15" y2="2293.65" stroke="#000" stroke-width="3.3" stroke-linecap="round"/>
<line x1="333.68" y1="2285" x2="333.68" y2="2293.65" stroke="#000" stroke-width="3.3" stroke-linecap="round"/>
<rect x="452.3" y="1761.5" width="250.9" height="64.1" fill="#CCCCCC"/>
<g transform="translate(519.81,1807.4) scale(1,1)" fill="#000"><text x="0" y="0" transform="scale(1,1.04)" font-size="35.2" style="font-kerning:none">T</text><text x="17.28" y="0" font-size="35.2" style="font-kerning:none">eepee</text></g>
<line x1="499.1" y1="1849.15" x2="499.1" y2="2000.7" stroke="#242424" stroke-width="2.9" stroke-linecap="round"/>
<line x1="499.1" y1="2113.9" x2="499.1" y2="2195.05" stroke="#242424" stroke-width="2.9" stroke-linecap="round"/>
<rect x="469.66" y="2000.7" width="58.88" height="113.2" fill="#F8766D" stroke="#242424" stroke-width="2.9" stroke-linejoin="round"/>
<line x1="469.66" y1="2023.3" x2="528.54" y2="2023.3" stroke="#2e2e2e" stroke-width="5.6" stroke-linecap="butt"/>
<line x1="577.6" y1="2094.75" x2="577.6" y2="2137.2" stroke="#242424" stroke-width="2.9" stroke-linecap="round"/>
<line x1="577.6" y1="2192.5" x2="577.6" y2="2247.25" stroke="#242424" stroke-width="2.9" stroke-linecap="round"/>
<rect x="548.16" y="2137.2" width="58.88" height="55.3" fill="#00BA38" stroke="#242424" stroke-width="2.9" stroke-linejoin="round"/>
<line x1="548.16" y1="2172.1" x2="607.04" y2="2172.1" stroke="#2e2e2e" stroke-width="5.6" stroke-linecap="butt"/>
<line x1="656.1" y1="2175.45" x2="656.1" y2="2188.2" stroke="#242424" stroke-width="2.9" stroke-linecap="round"/>
<line x1="656.1" y1="2239.9" x2="656.1" y2="2261.55" stroke="#242424" stroke-width="2.9" stroke-linecap="round"/>
<rect x="626.66" y="2188.2" width="58.88" height="51.7" fill="#619CFF" stroke="#242424" stroke-width="2.9" stroke-linejoin="round"/>
<line x1="626.66" y1="2211.9" x2="685.54" y2="2211.9" stroke="#2e2e2e" stroke-width="5.6" stroke-linecap="butt"/>
<circle cx="656.1" cy="2088.5" r="6.6" fill="#323232"/>
<path d="M452,1826.65V2285H703.55" fill="none" stroke="#000" stroke-width="3.3" stroke-linejoin="miter" stroke-linecap="round"/>
<line x1="443.35" y1="1956.4" x2="452" y2="1956.4" stroke="#000" stroke-width="3.3" stroke-linecap="round"/>
<g transform="translate(413.82,1969.4) scale(1,1)" fill="#000"><text x="0" y="0" font-size="35.2" style="font-kerning:none">2</text></g>
<line x1="443.35" y1="2086.9" x2="452" y2="2086.9" stroke="#000" stroke-width="3.3" stroke-linecap="round"/>
<g transform="translate(413.82,2099.9) scale(1,1)" fill="#000"><path transform="translate(0,0) scale(35.2,-35.2)" d="M0.255,0L0.352,0L0.352,0.703L0.300,0.703C0.283,0.640 0.225,0.575 0.087,0.553L0.087,0.492C0.150,0.496 0.215,0.502 0.255,0.512Z"/></g>
<line x1="443.35" y1="2217.4" x2="452" y2="2217.4" stroke="#000" stroke-width="3.3" stroke-linecap="round"/>
<g transform="translate(413.82,2230.4) scale(1,1)" fill="#000"><text x="0" y="0" font-size="35.2" style="font-kerning:none">0</text></g>
<line x1="499.1" y1="2285" x2="499.1" y2="2293.65" stroke="#000" stroke-width="3.3" stroke-linecap="round"/>
<line x1="577.6" y1="2285" x2="577.6" y2="2293.65" stroke="#000" stroke-width="3.3" stroke-linecap="round"/>
<line x1="656.1" y1="2285" x2="656.1" y2="2293.65" stroke="#000" stroke-width="3.3" stroke-linecap="round"/>
<rect x="774.5" y="1761.5" width="251.3" height="64.1" fill="#CCCCCC"/>
<g transform="translate(854.14,1807.4) scale(1,1)" fill="#000"><text x="0" y="0" transform="scale(1,1.04)" font-size="35.2" style="font-kerning:none">W</text><text x="33.22" y="0" font-size="35.2" style="font-kerning:none">hup</text></g>
<line x1="821.38" y1="2028.75" x2="821.38" y2="2085.7" stroke="#242424" stroke-width="2.9" stroke-linecap="round"/>
<line x1="821.38" y1="2151.4" x2="821.38" y2="2223.05" stroke="#242424" stroke-width="2.9" stroke-linecap="round"/>
<rect x="791.89" y="2085.7" width="58.97" height="65.7" fill="#F8766D" stroke="#242424" stroke-width="2.9" stroke-linejoin="round"/>
<line x1="791.89" y1="2113" x2="850.86" y2="2113" stroke="#2e2e2e" stroke-width="5.6" stroke-linecap="butt"/>
<circle cx="821.38" cy="1849.3" r="6.6" fill="#323232"/>
<line x1="900" y1="2012.15" x2="900" y2="2106.8" stroke="#242424" stroke-width="2.9" stroke-linecap="round"/>
<line x1="900" y1="2202.9" x2="900" y2="2211.65" stroke="#242424" stroke-width="2.9" stroke-linecap="round"/>
<rect x="870.52" y="2106.8" width="58.97" height="96.1" fill="#00BA38" stroke="#242424" stroke-width="2.9" stroke-linejoin="round"/>
<line x1="870.52" y1="2175.2" x2="929.48" y2="2175.2" stroke="#2e2e2e" stroke-width="5.6" stroke-linecap="butt"/>
<circle cx="900" cy="1847.2" r="6.6" fill="#323232"/>
<line x1="978.62" y1="2086.45" x2="978.62" y2="2171.6" stroke="#242424" stroke-width="2.9" stroke-linecap="round"/>
<line x1="978.62" y1="2231.4" x2="978.62" y2="2261.55" stroke="#242424" stroke-width="2.9" stroke-linecap="round"/>
<rect x="949.14" y="2171.6" width="58.97" height="59.8" fill="#619CFF" stroke="#242424" stroke-width="2.9" stroke-linejoin="round"/>
<line x1="949.14" y1="2203.6" x2="1008.11" y2="2203.6" stroke="#2e2e2e" stroke-width="5.6" stroke-linecap="butt"/>
<circle cx="978.62" cy="1942.6" r="6.6" fill="#323232"/>
<circle cx="978.62" cy="1971.8" r="6.6" fill="#323232"/>
<path d="M774.2,1826.65V2285H1026.15" fill="none" stroke="#000" stroke-width="3.3" stroke-linejoin="miter" stroke-linecap="round"/>
<line x1="765.55" y1="1892.8" x2="774.2" y2="1892.8" stroke="#000" stroke-width="3.3" stroke-linecap="round"/>
<g transform="translate(736.02,1905.8) scale(1,1)" fill="#000"><text x="0" y="0" font-size="35.2" style="font-kerning:none">2</text></g>
<line x1="765.55" y1="2029.9" x2="774.2" y2="2029.9" stroke="#000" stroke-width="3.3" stroke-linecap="round"/>
<g transform="translate(736.02,2042.9) scale(1,1)" fill="#000"><path transform="translate(0,0) scale(35.2,-35.2)" d="M0.255,0L0.352,0L0.352,0.703L0.300,0.703C0.283,0.640 0.225,0.575 0.087,0.553L0.087,0.492C0.150,0.496 0.215,0.502 0.255,0.512Z"/></g>
<line x1="765.55" y1="2166.9" x2="774.2" y2="2166.9" stroke="#000" stroke-width="3.3" stroke-linecap="round"/>
<g transform="translate(736.02,2179.9) scale(1,1)" fill="#000"><text x="0" y="0" font-size="35.2" style="font-kerning:none">0</text></g>
<line x1="821.38" y1="2285" x2="821.38" y2="2293.65" stroke="#000" stroke-width="3.3" stroke-linecap="round"/>
<line x1="900" y1="2285" x2="900" y2="2293.65" stroke="#000" stroke-width="3.3" stroke-linecap="round"/>
<line x1="978.62" y1="2285" x2="978.62" y2="2293.65" stroke="#000" stroke-width="3.3" stroke-linecap="round"/>
<rect x="145.4" y="1716.8" width="5" height="1.2" fill="#ececec"/>
<rect x="163" y="1716.8" width="5" height="1.2" fill="#e6e6e6"/>
<rect x="182.7" y="1716.8" width="5" height="1.2" fill="#e6e6e6"/>
<rect x="211.2" y="1716.8" width="5" height="1.2" fill="#e2e2e2"/>
<rect x="229.8" y="1716.8" width="5" height="1.2" fill="#e8e8e8"/>
<rect x="248.5" y="1716.8" width="5" height="1.2" fill="#e6e6e6"/>
<rect x="268.1" y="1716.8" width="5" height="1.2" fill="#e8e8e8"/>
<rect x="282.9" y="1716.8" width="5" height="1.2" fill="#bdbdbd"/>
<rect x="302.5" y="1716.8" width="5" height="1.2" fill="#e6e6e6"/>
<rect x="321.2" y="1716.8" width="5" height="1.2" fill="#e6e6e6"/>
<rect x="341.8" y="1716.8" width="5" height="1.2" fill="#e8e8e8"/>
<rect x="361.5" y="1716.8" width="5" height="1.2" fill="#e6e6e6"/>
<rect x="197" y="1716.9" width="17" height="1" fill="#f2f2f2"/>
<rect x="467.6" y="1716.8" width="5" height="1.2" fill="#ececec"/>
<rect x="485.2" y="1716.8" width="5" height="1.2" fill="#e6e6e6"/>
<rect x="504.9" y="1716.8" width="5" height="1.2" fill="#e6e6e6"/>
<rect x="533.4" y="1716.8" width="5" height="1.2" fill="#e2e2e2"/>
<rect x="552" y="1716.8" width="5" height="1.2" fill="#e8e8e8"/>
<rect x="570.7" y="1716.8" width="5" height="1.2" fill="#e6e6e6"/>
<rect x="590.3" y="1716.8" width="5" height="1.2" fill="#e8e8e8"/>
<rect x="605.1" y="1716.8" width="5" height="1.2" fill="#bdbdbd"/>
<rect x="624.7" y="1716.8" width="5" height="1.2" fill="#e6e6e6"/>
<rect x="643.4" y="1716.8" width="5" height="1.2" fill="#e6e6e6"/>
<rect x="664" y="1716.8" width="5" height="1.2" fill="#e8e8e8"/>
<rect x="683.7" y="1716.8" width="5" height="1.2" fill="#e6e6e6"/>
<rect x="519.2" y="1716.9" width="17" height="1" fill="#f2f2f2"/>
<rect x="790" y="1716.8" width="5" height="1.2" fill="#ececec"/>
<rect x="807.6" y="1716.8" width="5" height="1.2" fill="#e6e6e6"/>
<rect x="827.3" y="1716.8" width="5" height="1.2" fill="#e6e6e6"/>
<rect x="855.8" y="1716.8" width="5" height="1.2" fill="#e2e2e2"/>
<rect x="874.4" y="1716.8" width="5" height="1.2" fill="#e8e8e8"/>
<rect x="893.1" y="1716.8" width="5" height="1.2" fill="#e6e6e6"/>
<rect x="912.7" y="1716.8" width="5" height="1.2" fill="#e8e8e8"/>
<rect x="927.5" y="1716.8" width="5" height="1.2" fill="#bdbdbd"/>
<rect x="947.1" y="1716.8" width="5" height="1.2" fill="#e6e6e6"/>
<rect x="965.8" y="1716.8" width="5" height="1.2" fill="#e6e6e6"/>
<rect x="986.4" y="1716.8" width="5" height="1.2" fill="#e8e8e8"/>
<rect x="1006.1" y="1716.8" width="5" height="1.2" fill="#e6e6e6"/>
<rect x="841.6" y="1716.9" width="17" height="1" fill="#f2f2f2"/>
<g transform="translate(37.9,577.7) rotate(-90) translate(-42.57,0)"><text x="0" y="0" transform="scale(1,1.04)" font-size="46.7" style="font-kerning:none">PC</text><path transform="translate(64.87,0) scale(46.7,-46.7)" d="M0.255,0L0.352,0L0.352,0.703L0.300,0.703C0.283,0.640 0.225,0.575 0.087,0.553L0.087,0.492C0.150,0.496 0.215,0.502 0.255,0.512Z"/></g>
<g transform="translate(58.8,1760.3) rotate(-90) translate(-46.16,0)"><text x="0" y="0" transform="scale(1,1.04)" font-size="46.7" style="font-kerning:none">PC</text><text x="64.87" y="0" font-size="46.7" style="font-kerning:none">2</text></g>
<g transform="translate(1068.31,538.4) scale(1,1)" fill="#000"><text x="0" y="0" transform="scale(1,1.04)" font-size="40.7" style="font-kerning:none">Y</text><text x="22.67" y="0" font-size="40.7" style="font-kerning:none">ear</text></g>
<line x1="1089.6" y1="554.2" x2="1089.6" y2="588.4" stroke="#242424" stroke-width="2.6" stroke-linecap="round"/>
<rect x="1073.7" y="561" width="31.8" height="20.6" fill="#F8766D" stroke="#222222" stroke-width="2.5"/>
<line x1="1073.7" y1="571.3" x2="1105.5" y2="571.3" stroke="#2e2e2e" stroke-width="2.5" stroke-linecap="butt"/>
<g transform="translate(1116.5,584.8) scale(1,1)" fill="#000"><path transform="translate(0,0) scale(35.2,-35.2)" d="M0.255,0L0.352,0L0.352,0.703L0.300,0.703C0.283,0.640 0.225,0.575 0.087,0.553L0.087,0.492C0.150,0.496 0.215,0.502 0.255,0.512Z"/><text x="19.58" y="0" font-size="35.2" style="font-kerning:none">997</text></g>
<line x1="1089.6" y1="596.2" x2="1089.6" y2="630.4" stroke="#242424" stroke-width="2.6" stroke-linecap="round"/>
<rect x="1073.7" y="603" width="31.8" height="20.6" fill="#00BA38" stroke="#222222" stroke-width="2.5"/>
<line x1="1073.7" y1="613.3" x2="1105.5" y2="613.3" stroke="#2e2e2e" stroke-width="2.5" stroke-linecap="butt"/>
<g transform="translate(1116.5,626.8) scale(1,1)" fill="#000"><text x="0" y="0" font-size="35.2" style="font-kerning:none">2000&#39;s</text></g>
<line x1="1089.6" y1="638.2" x2="1089.6" y2="672.4" stroke="#242424" stroke-width="2.6" stroke-linecap="round"/>
<rect x="1073.7" y="645" width="31.8" height="20.6" fill="#619CFF" stroke="#222222" stroke-width="2.5"/>
<line x1="1073.7" y1="655.3" x2="1105.5" y2="655.3" stroke="#2e2e2e" stroke-width="2.5" stroke-linecap="butt"/>
<g transform="translate(1116.5,668.8) scale(1,1)" fill="#000"><text x="0" y="0" font-size="35.2" style="font-kerning:none">20</text><path transform="translate(39.15,0) scale(35.2,-35.2)" d="M0.255,0L0.352,0L0.352,0.703L0.300,0.703C0.283,0.640 0.225,0.575 0.087,0.553L0.087,0.492C0.150,0.496 0.215,0.502 0.255,0.512Z"/><text x="58.73" y="0" font-size="35.2" style="font-kerning:none">2</text></g>
</g>
</svg>
</body></html>
